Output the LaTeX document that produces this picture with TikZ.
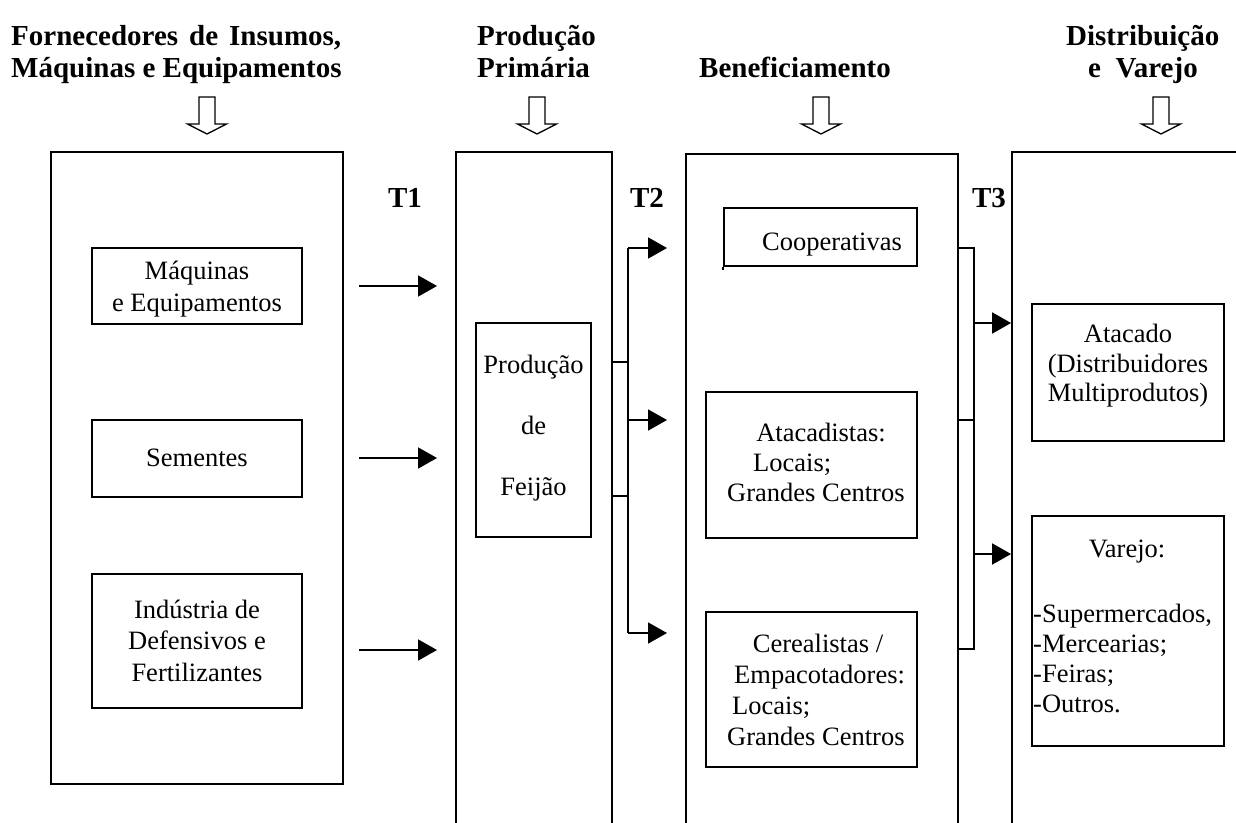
\documentclass[tikz,border=0pt]{standalone}
\usepackage{fontspec}
\setmainfont{Liberation Serif}
\usetikzlibrary{arrows.meta}
\begin{document}
\begin{tikzpicture}[x=1pt,y=-1pt,
  box/.style={draw, line width=1.8pt, inner sep=0pt},
  txt/.style={font=\fontsize{26.5}{30.5}\selectfont, inner sep=0pt, anchor=base},
  txtw/.style={txt, anchor=base west},
  hdr/.style={font=\fontsize{29}{32}\selectfont\bfseries, inner sep=0pt, anchor=base},
  hdrw/.style={hdr, anchor=base west},
  conn/.style={line width=1.8pt},
  arr/.style={conn, -{Triangle[length=19pt,width=21pt]}},
  hollow/.pic={\draw[line width=1.3pt, line join=miter] (-8,-37) -- (-8,-10) -- (-19.5,-10) -- (0,0) -- (19.5,-10) -- (8,-10) -- (8,-37) -- cycle;}
]
\useasboundingbox (0,0) rectangle (1236,822);
\clip (0,0) rectangle (1236,822);

% headers
\node[hdrw] (h1a) at (11,45) {\makebox[330pt][s]{Fornecedores de Insumos,}};
\node[hdrw] (h1b) at (11,77) {Máquinas e Equipamentos};
\node[hdrw] (h2a) at (477,45) {Produção};
\node[hdrw] (h2b) at (477,77) {Primária};
\node[hdrw] (h3) at (699,77) {Beneficiamento};
\node[hdrw] (h4a) at (1066,45) {Distribuição};
\node[hdrw] (h4b) at (1088,77) {e\ \ Varejo};

% hollow arrows
\pic at (207,134) {hollow};
\pic at (537,134) {hollow};
\pic at (821,134) {hollow};
\pic at (1161,134) {hollow};

% columns
\node[box, minimum width=292pt, minimum height=632pt] (c1) at (197,468) {};
\node[box, minimum width=156pt, minimum height=748pt] (c2) at (534,526) {};
\node[box, minimum width=272pt, minimum height=746pt] (c3) at (822,527) {};
\node[box, minimum width=238pt, minimum height=748pt] (c4) at (1131,526) {};

% T labels
\node[hdr] (t1) at (405,207) {T1};
\node[hdr] (t2) at (647,207) {T2};
\node[hdr] (t3) at (989,207) {T3};

% column 1
\node[box, minimum width=210pt, minimum height=76pt] (maq) at (197,286) {};
\node[txt] (maq1) at (197,279) {Máquinas};
\node[txt] (maq2) at (197,311) {e Equipamentos};
\node[box, minimum width=210pt, minimum height=77pt] (sem) at (197,458.5) {};
\node[txt] (sem1) at (197,466) {Sementes};
\node[box, minimum width=210pt, minimum height=134pt] (ind) at (197,641) {};
\node[txt] (ind1) at (197,618) {Indústria de};
\node[txt] (ind2) at (197,649) {Defensivos e};
\node[txt] (ind3) at (197,681) {Fertilizantes};

% column 2
\node[box, minimum width=115pt, minimum height=214pt] (prod) at (533.5,430) {};
\node[txt] (p1) at (533.5,373) {Produção};
\node[txt] (p2) at (533.5,434) {de};
\node[txt] (p3) at (533.5,495) {Feijão};

% column 3
\node[box, minimum width=193pt, minimum height=58pt] (coop) at (820.5,237) {};
\draw[box] (coop.south west) -- ++(0,3);
\node[txt] (coopt) at (832,250) {Cooperativas};
\node[box, minimum width=211pt, minimum height=146pt] (atd) at (811.5,465) {};
\node[txt] (atd1) at (821,441) {Atacadistas:};
\node[txtw] (atd2) at (753,471) {Locais;};
\node[txtw] (atd3) at (727,501) {Grandes Centros};
\node[box, minimum width=211pt, minimum height=155pt] (cer) at (811.5,689.5) {};
\node[txt] (cer1) at (818,652) {Cerealistas /};
\node[txtw] (cer2) at (734,683) {Empacotadores:};
\node[txtw] (cer3) at (732,714) {Locais;};
\node[txtw] (cer4) at (727,745) {Grandes Centros};

% column 4
\node[box, minimum width=192pt, minimum height=137pt] (atc) at (1128,372.5) {};
\node[txt] (atc1) at (1128,342) {Atacado};
\node[txt] (atc2) at (1128,372) {(Distribuidores};
\node[txt] (atc3) at (1128,401) {Multiprodutos)};
\node[box, minimum width=192pt, minimum height=230pt] (var) at (1128,631) {};
\node[txt] (var1) at (1127,557) {Varejo:};
\node[txtw] (var2) at (1033,622) {-Supermercados,};
\node[txtw] (var3) at (1033,652) {-Mercearias;};
\node[txtw] (var4) at (1033,682) {-Feiras;};
\node[txtw] (var5) at (1033,712) {-Outros.};

% T1 arrows
\coordinate (a1s) at (359,286); \coordinate (a1e) at (437,286);
\coordinate (a2s) at (359,458); \coordinate (a2e) at (437,458);
\coordinate (a3s) at (359,650); \coordinate (a3e) at (437,650);
\draw[arr] (a1s) -- (a1e);
\draw[arr] (a2s) -- (a2e);
\draw[arr] (a3s) -- (a3e);

% T2 connector
\coordinate (t2top) at (628,248);
\coordinate (t2mid) at (628,420);
\coordinate (t2bot) at (628,633);
\coordinate (t2s1) at (628,362);
\coordinate (t2s2) at (628,496);
\coordinate (t2e1) at (667,248);
\coordinate (t2e2) at (667,420);
\coordinate (t2e3) at (667,633);
\draw[conn] (t2top) -- (t2bot);
\draw[conn] (c2.east |- t2s1) -- (t2s1);
\draw[conn] (c2.east |- t2s2) -- (t2s2);
\draw[arr] (t2top) -- (t2e1);
\draw[arr] (t2mid) -- (t2e2);
\draw[arr] (t2bot) -- (t2e3);

% T3 connector
\coordinate (t3top) at (974,248);
\coordinate (t3s) at (974,420);
\coordinate (t3bot) at (974,649);
\coordinate (t3m1) at (974,323);
\coordinate (t3m2) at (974,554);
\draw[conn] (c3.east |- t3top) -- (t3top) -- (t3bot) -- (c3.east |- t3bot);
\draw[conn] (c3.east |- t3s) -- (t3s);
\draw[arr] (t3m1) -- (c4.west |- t3m1);
\draw[arr] (t3m2) -- (c4.west |- t3m2);
\end{tikzpicture}
\end{document}
